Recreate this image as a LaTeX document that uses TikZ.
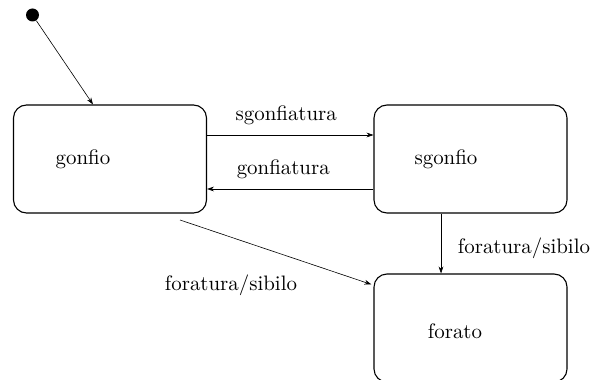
\documentclass[tikz,border=0pt]{standalone}
\usetikzlibrary{arrows.meta}
\begin{document}
\begin{tikzpicture}[x=0.5pt,y=-0.5pt,
  statebox/.style={draw,line width=0.55pt,rounded corners=6.5pt,minimum width=96.5pt,minimum height=54pt,inner sep=0pt},
  lbl/.style={inner sep=0pt,font=\fontsize{10.45}{12.5}\selectfont},
  conn/.style={line width=0.3pt,-{Stealth[length=3.5pt,width=2.4pt]}}]
\useasboundingbox (0,0) rectangle (592,379);
\clip (0,0) rectangle (592,379);
\node[statebox] (g) at (110,159) {};
\node[statebox] (s) at (470.5,159) {};
\node[statebox] (f) at (470.5,328) {};
\node[lbl] (gt) at (83,159) {gonfio};
\node[lbl] (st) at (446,159) {sgonfio};
\node[lbl] (ft) at (455,331) {forato};
\node[circle,fill,inner sep=0pt,minimum size=6.5pt] (i) at (32.5,15) {};
\draw[conn] (i) -- ([xshift=-8.5pt]g.north);
\draw[conn] ([yshift=12pt]g.east) -- node[lbl,above=5pt,xshift=-2pt] (l1) {sgonfiatura} ([yshift=12pt]s.west);
\draw[conn] ([yshift=-15pt]s.west) -- node[lbl,above=5pt,xshift=-3.5pt] (l2) {gonfiatura} ([yshift=-15pt]g.east);
\draw[conn] ([xshift=-14.75pt]s.south) -- ([xshift=-14.75pt]f.north);
\node[lbl] (l3) at (524,248) {foratura/sibilo};
\coordinate (d1) at (180,220);
\draw[conn] (d1) -- ([xshift=-1pt,yshift=-5.5pt]f.north west);
\node[lbl] (l4) at (231,285) {foratura/sibilo};
\end{tikzpicture}
\end{document}
